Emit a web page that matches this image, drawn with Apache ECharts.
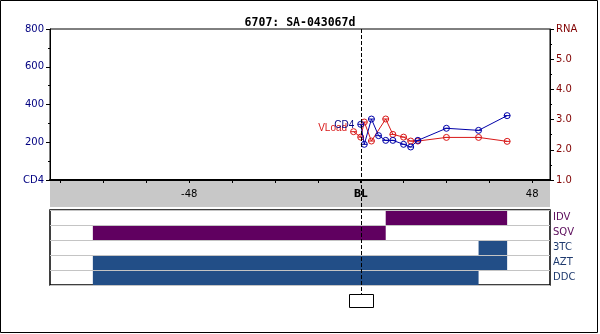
<!DOCTYPE html>
<html>
<head>
<meta charset="utf-8">
<script src="https://cdn.jsdelivr.net/npm/echarts@6/dist/echarts.min.js"></script>
<style>html,body{margin:0;padding:0;background:#fff;}#c{width:600px;height:334px;}</style>
</head>
<body>
<div id="c"></div>
<script>
// ---- data ----
const titleText = '6707: SA-043067d';
const cd4Weeks = [0, 1, 3, 5, 7, 9, 12, 14, 16, 24, 33, 41];
const cd4Values = [295, 189, 323, 235, 210, 210, 189, 175, 210, 274, 263, 341];
const rnaWeeks = [-2, 0, 1, 3, 7, 9, 12, 14, 16, 24, 33, 41];
const rnaValues = [2.60, 2.42, 2.92, 2.29, 3.02, 2.51, 2.42, 2.29, 2.29, 2.41, 2.41, 2.28];
const drugNames = ['IDV', 'SQV', '3TC', 'AZT', 'DDC'];
const drugStart = [7, -75, 33, -75, -75];
const drugEnd = [41, 7, 41, 41, 33];
const xTickValues = [-84, -72, -60, -48, -36, -24, -12, 0, 12, 24, 36, 48];
const xLabelValues = [-48, 0, 48];

const purple = '#600060';
const steel = '#224e87';
const drugColors = { IDV: purple, SQV: purple, '3TC': steel, AZT: steel, DDC: steel };
const drugLabelColors = { IDV: '#5a0a5a', SQV: '#5a0a5a', '3TC': '#1e3a6e', AZT: '#1e3a6e', DDC: '#1e3a6e' };

const blue = '#0000a8';
const red = '#d81818';
const markerPath = 'path://M0,5A5,5 0 1 1 10,5A5,5 0 1 1 0,5ZM0,5L10,5';

const font = 'DejaVu Sans';
const XMIN = -87, XMAX = 53;

const chart = echarts.init(document.getElementById('c'), null, { renderer: 'canvas' });

const drugData = drugNames.map((n, i) => [i, drugStart[i], drugEnd[i]]);
const hiddenAxis = { axisLine: { show: false }, axisTick: { show: false }, axisLabel: { show: false }, splitLine: { show: false } };

const option = {
  animation: false,
  backgroundColor: '#fff',
  title: {
    text: titleText, left: 'center', top: 12,
    textStyle: { fontFamily: 'DejaVu Sans Mono', fontWeight: 'bold', fontSize: 11.5, color: '#000' }
  },
  grid: [
    { left: 50, top: 29, width: 500, height: 151, show: true, borderColor: '#000', borderWidth: 1, backgroundColor: 'transparent' },
    { left: 50, top: 180, width: 500, height: 27, show: true, borderWidth: 0, backgroundColor: '#c8c8c8' },
    { left: 50, top: 210, width: 500, height: 75, show: true, borderColor: '#000', borderWidth: 1.5, backgroundColor: '#fff' }
  ],
  xAxis: [
    Object.assign({ gridIndex: 0, type: 'value', min: XMIN, max: XMAX }, hiddenAxis),
    { gridIndex: 1, type: 'value', min: XMIN, max: XMAX, position: 'top',
      axisLine: { show: true, onZero: false, lineStyle: { color: '#000', width: 2 } },
      axisTick: { show: true, inside: true, length: 3, customValues: xTickValues, lineStyle: { color: '#000' } },
      axisLabel: { show: true, inside: true, margin: 9, customValues: xLabelValues, fontFamily: font, fontSize: 10, color: '#000',
        formatter: v => v === 0 ? '{b|BL}' : String(v),
        rich: { b: { fontWeight: 'bold', fontFamily: font, fontSize: 10, color: '#000' } } },
      splitLine: { show: false } },
    Object.assign({ gridIndex: 2, type: 'value', min: XMIN, max: XMAX }, hiddenAxis)
  ],
  yAxis: [
    { gridIndex: 0, type: 'value', min: 0, max: 800, interval: 200, position: 'left',
      axisLine: { show: true, onZero: false, lineStyle: { color: '#000' } },
      axisTick: { show: true, length: 4, lineStyle: { color: '#000' } },
      minorTick: { show: true, splitNumber: 2, length: 2, lineStyle: { color: '#000' } },
      axisLabel: { margin: 6, fontFamily: font, fontSize: 10, color: '#000080', formatter: v => v === 0 ? 'CD4' : String(v) },
      splitLine: { show: false } },
    { gridIndex: 0, type: 'value', min: 1, max: 6, interval: 1, position: 'right',
      axisLine: { show: true, onZero: false, lineStyle: { color: '#000' } },
      axisTick: { show: true, length: 4, lineStyle: { color: '#000' } },
      minorTick: { show: true, splitNumber: 2, length: 2, lineStyle: { color: '#000' } },
      axisLabel: { margin: 6, fontFamily: font, fontSize: 10, color: '#800000', formatter: v => v === 6 ? 'RNA' : v.toFixed(1) },
      splitLine: { show: false } },
    { gridIndex: 2, type: 'category', data: drugNames, inverse: true, position: 'right',
      axisLine: { show: false, onZero: false }, axisTick: { show: false },
      axisLabel: { margin: 3, fontFamily: font, fontSize: 10,
        formatter: v => '{' + (v === '3TC' ? 't' : v) + '|' + v + '}',
        rich: {
          IDV: { color: drugLabelColors.IDV, fontFamily: font, fontSize: 10 },
          SQV: { color: drugLabelColors.SQV, fontFamily: font, fontSize: 10 },
          t: { color: drugLabelColors['3TC'], fontFamily: font, fontSize: 10 },
          AZT: { color: drugLabelColors.AZT, fontFamily: font, fontSize: 10 },
          DDC: { color: drugLabelColors.DDC, fontFamily: font, fontSize: 10 }
        } },
      splitLine: { show: true, lineStyle: { color: '#c4c4c4', width: 1 } },
      z: 5 },
    Object.assign({ gridIndex: 1, type: 'value', min: 0, max: 1 }, hiddenAxis)
  ],
  series: [
    { type: 'line', name: 'VLoad', xAxisIndex: 0, yAxisIndex: 1,
      data: rnaWeeks.map((w, i) => [w, rnaValues[i]]),
      symbol: markerPath, symbolSize: 6,
      itemStyle: { color: 'rgba(0,0,0,0)', borderColor: red, borderWidth: 1 },
      lineStyle: { color: red, width: 1 },
      label: { show: true, position: 'left', distance: 3, offset: [0, -3], color: red, fontFamily: 'Liberation Sans', fontSize: 10,
        formatter: p => p.dataIndex === 0 ? 'VLoad' : '' },
      z: 3 },
    { type: 'line', name: 'CD4', xAxisIndex: 0, yAxisIndex: 0,
      data: cd4Weeks.map((w, i) => [w, cd4Values[i]]),
      symbol: markerPath, symbolSize: 6,
      itemStyle: { color: 'rgba(0,0,0,0)', borderColor: blue, borderWidth: 1 },
      lineStyle: { color: blue, width: 1 },
      label: { show: true, position: 'left', distance: 3, offset: [0, 1], color: '#000080', fontFamily: 'Liberation Sans', fontSize: 10,
        formatter: p => p.dataIndex === 0 ? 'CD4' : '' },
      z: 4 },
    { type: 'custom', xAxisIndex: 2, yAxisIndex: 2,
      data: drugData,
      encode: { x: [1, 2], y: 0 },
      renderItem: function (params, api) {
        const row = api.value(0);
        const s = api.coord([api.value(1), row]);
        const e = api.coord([api.value(2), row]);
        const h = api.size([0, 1])[1];
        return { type: 'rect', shape: { x: s[0], y: s[1] - h / 2, width: e[0] - s[0], height: h },
          style: { fill: drugColors[drugNames[row]] } };
      },
      z: 2 }
  ]
};
chart.setOption(option);

// reference line at baseline (week 0), positioned through the library's scale
const bx = Math.round(chart.convertToPixel({ xAxisIndex: 0 }, 0)) + 0.5;
chart.setOption({
  graphic: [
    { type: 'line', z: 100, shape: { x1: bx, y1: 29, x2: bx, y2: 294 }, style: { stroke: '#000', lineWidth: 1, lineDash: [4, 2] } },
    { type: 'rect', z: 100, shape: { x: bx - 12, y: 294.5, width: 24, height: 13 }, style: { fill: '#fff', stroke: '#000', lineWidth: 1 } },
    { type: 'rect', z: 100, shape: { x: 0.5, y: 0.5, width: 597, height: 332 }, style: { fill: 'none', stroke: '#000', lineWidth: 1 } }
  ]
});
</script>
</body>
</html>
